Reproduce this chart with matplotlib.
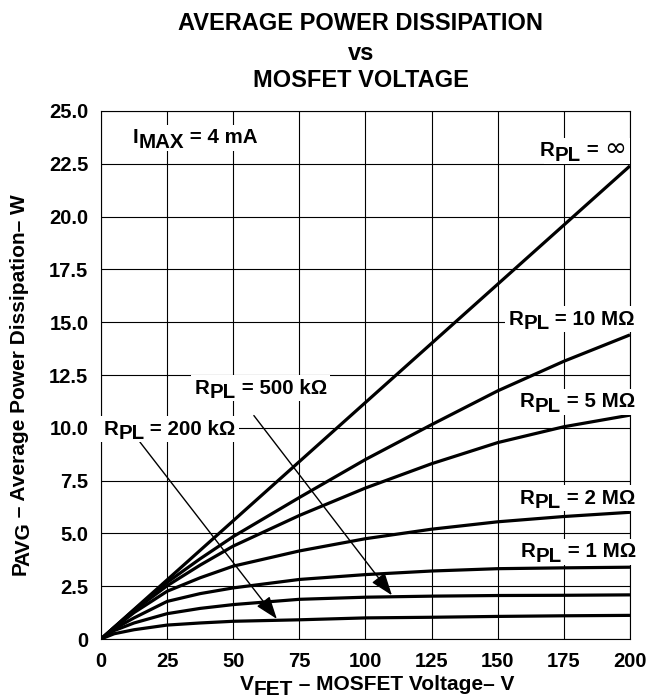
import numpy as np
import matplotlib.pyplot as plt
from matplotlib.transforms import offset_copy

# values
v_fet = [0, 5, 12.5, 25, 37.5, 50, 75, 100, 125, 150, 175, 200]
p_inf = [0, 0.56, 1.4, 2.8, 4.2, 5.6, 8.4, 11.2, 14.0, 16.8, 19.6, 22.4]
p_10m = [0, 0.55, 1.38, 2.68, 3.8, 4.85, 6.7, 8.5, 10.15, 11.75, 13.15, 14.4]
p_5m = [0, 0.55, 1.35, 2.52, 3.5, 4.4, 5.85, 7.15, 8.3, 9.3, 10.05, 10.6]
p_2m = [0, 0.52, 1.25, 2.26, 2.9, 3.45, 4.17, 4.75, 5.2, 5.55, 5.8, 6.0]
p_1m = [0, 0.48, 1.0, 1.78, 2.15, 2.42, 2.82, 3.05, 3.22, 3.33, 3.37, 3.4]
p_500k = [0, 0.4, 0.76, 1.2, 1.45, 1.63, 1.88, 1.98, 2.03, 2.06, 2.07, 2.09]
p_200k = [0, 0.25, 0.44, 0.66, 0.76, 0.84, 0.91, 1.0, 1.03, 1.07, 1.1, 1.12]

x_ticks = [0, 25, 50, 75, 100, 125, 150, 175, 200]
y_ticks = [0, 2.5, 5.0, 7.5, 10.0, 12.5, 15.0, 17.5, 20.0, 22.5, 25.0]
y_tick_labels = ['0', '2.5', '5.0', '7.5', '10.0', '12.5', '15.0', '17.5', '20.0', '22.5', '25.0']

plt.rcParams['font.family'] = ['Liberation Sans', 'DejaVu Sans']
plt.rcParams['font.weight'] = 'bold'

fig = plt.figure(figsize=(6.49, 6.98), dpi=100)
ax = fig.add_axes([0.1556, 0.0845, 0.8151, 0.7565])
renderer = fig.canvas.get_renderer()


def piece_font(p, size):
    # (text, is_sub) or (text, is_sub, size, family, weight)
    if len(p) > 2:
        return dict(fontsize=p[2], family=p[3], fontweight=p[4])
    return dict(fontsize=size, fontweight='bold')


def measure(parts, size):
    widths = []
    for p in parts:
        t = fig.text(0, 0, p[0], **piece_font(p, size))
        widths.append(t.get_window_extent(renderer).width)
        t.remove()
    return widths


def rich(x, y, parts, size, ha='left', trans=None, bg=False, z=5):
    # text with subscripts kept at full size, just dropped below the baseline
    if trans is None:
        trans = ax.transData
    widths = measure(parts, size)
    total = sum(widths)
    start = {'left': 0, 'center': -total / 2, 'right': -total}[ha]
    drop = size * 0.22 * fig.dpi / 72
    if bg:
        ax.text(x, y, ''.join(p[0] for p in parts), fontsize=size, fontweight='bold',
                color='none', ha=ha, va='baseline', transform=trans, zorder=z - 0.5,
                bbox=dict(facecolor='white', edgecolor='none', pad=2.5), clip_on=False)
    pos = start
    for p, w in zip(parts, widths):
        dy = -drop if p[1] else 0
        tr = offset_copy(trans, fig=fig, x=pos, y=dy, units='dots')
        fig.text(x, y, p[0], ha='left', va='baseline', transform=tr, zorder=z, **piece_font(p, size))
        pos += w


def rot_label(xl, yc, parts, size, fixes):
    # vertical axis title, pieces chained bottom to top
    total = sum(measure(parts, size))
    drop = size * 0.22
    y0 = yc - total / 2 / fig.bbox.height
    prev = fig.text(xl, y0, parts[0][0], rotation=90, ha='left', va='bottom',
                    fontsize=size, fontweight='bold')
    prev_sub = parts[0][1]
    for (txt, sub), fix in zip(parts[1:], fixes):
        prev = ax.annotate(txt, xy=(0, 1), xycoords=prev, xytext=(drop * (sub - prev_sub), fix),
                           textcoords='offset points', rotation=90, ha='left', va='bottom',
                           fontsize=size, fontweight='bold', annotation_clip=False)
        prev_sub = sub


for p in [p_inf, p_10m, p_5m, p_2m, p_1m, p_500k, p_200k]:
    ax.plot(v_fet, p, color='black', lw=2.3, solid_capstyle='butt', zorder=3)

ax.set_xlim(0, 200)
ax.set_ylim(0, 25)
ax.set_xticks(x_ticks)
ax.set_yticks(y_ticks)
ax.set_yticklabels(y_tick_labels)
ax.tick_params(length=0, labelsize=14.5, pad=9)
for lab in ax.get_xticklabels() + ax.get_yticklabels():
    lab.set_fontweight('bold')
ax.grid(True, color='black', lw=0.8)
ax.set_axisbelow(True)
for sp in ax.spines.values():
    sp.set_linewidth(0.8)

# axis titles
rich(0.581, 0.011, [('V', 0), ('FET', 1), (' \u2013 MOSFET Voltage\u2013 V', 0)], 15,
     ha='center', trans=fig.transFigure)
rot_label(0.016, 0.4527, [('P', 0), ('AVG', 1), (' \u2013 Average Power Dissipation\u2013 W', 0)], 15,
          fixes=[-3.6, 0])

# chart title
fig.text(0.556, 0.957, 'AVERAGE POWER DISSIPATION', ha='center', va='baseline', fontsize=17, fontweight='bold')
fig.text(0.556, 0.914, 'vs', ha='center', va='baseline', fontsize=17, fontweight='bold')
fig.text(0.556, 0.875, 'MOSFET VOLTAGE', ha='center', va='baseline', fontsize=17, fontweight='bold')

# curve labels
rich(11.95, 23.48, [('I', 0), ('MAX', 1), (' = 4 mA', 0)], 14.8, bg=True)
rich(198.5, 22.85, [('R', 0), ('PL', 1), (' = ', 0), ('\u221e', 0, 19, 'DejaVu Sans', 'normal')], 14.8,
     ha='right', bg=True)
rich(201.9, 14.88, [('R', 0), ('PL', 1), (' = 10 M\u03a9', 0)], 14.8, ha='right', bg=True)
rich(201.9, 10.98, [('R', 0), ('PL', 1), (' = 5 M\u03a9', 0)], 14.8, ha='right', bg=True)
rich(201.9, 6.41, [('R', 0), ('PL', 1), (' = 2 M\u03a9', 0)], 14.8, ha='right', bg=True)
rich(202.3, 3.88, [('R', 0), ('PL', 1), (' = 1 M\u03a9', 0)], 14.8, ha='right', bg=True)
rich(35.5, 11.61, [('R', 0), ('PL', 1), (' = 500 k\u03a9', 0)], 14.8, bg=True)
rich(0.87, 9.67, [('R', 0), ('PL', 1), (' = 200 k\u03a9', 0)], 14.8, bg=True)

arrow = dict(arrowstyle='-|>,head_length=0.7,head_width=0.25', lw=1.0, color='black',
             mutation_scale=20, shrinkA=0, shrinkB=0)
ax.annotate('', xy=(66.5, 0.95), xytext=(14.7, 9.33), arrowprops=arrow, zorder=4)
ax.annotate('', xy=(110, 2.07), xytext=(57.8, 10.58), arrowprops=arrow, zorder=4)

fig.savefig('out.png', dpi=100)
